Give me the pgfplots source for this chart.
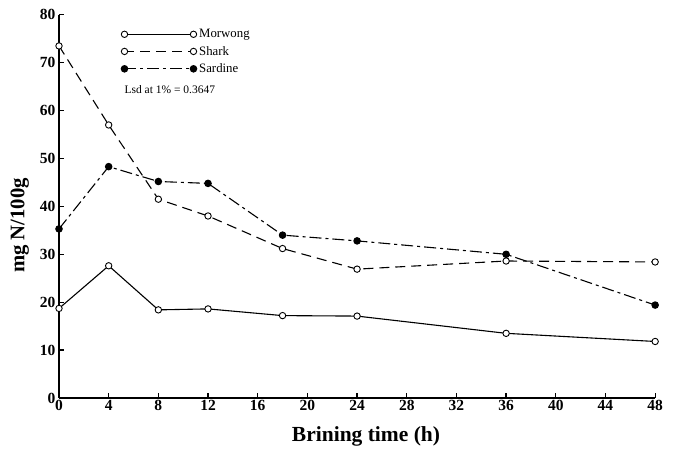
\documentclass[border=0pt]{standalone}
\usepackage{fontspec}
\setmainfont{Liberation Serif}
\usepackage{pgfplots}
\pgfplotsset{compat=1.18}

\begin{document}
\begin{tikzpicture}
\begin{axis}[
  x=12.42pt, y=4.79pt,
  anchor=origin, at={(0pt,0pt)},
  xmin=0, xmax=48, ymin=0, ymax=80,
  axis lines=left,
  axis line style={-, line width=1.6pt},
  xtick={0,4,...,48}, ytick={0,10,...,80},
  tick align=inside, major tick length=5pt,
  tick style={line width=1.3pt, black},
  /pgf/number format/assume math mode=true,
  ticklabel style={font=\fontsize{15.5}{17}\selectfont\bfseries},
  xticklabel style={yshift=1pt},
  xlabel={Brining time (h)},
  ylabel={mg N/100g},
  xlabel style={font=\fontsize{21.5}{24}\selectfont\bfseries,
    at={(axis description cs:0.515,-0.099)}, anchor=center},
  ylabel style={font=\fontsize{20.7}{24}\selectfont\bfseries,
    at={(axis description cs:-0.066,0.45)}, anchor=center},
  clip=false,
  legend style={at={(axis cs:5.0,72.3)}, anchor=west, draw=none, fill=none,
    font=\fontsize{12.8}{14}\selectfont, row sep=3pt, inner sep=0pt,
    nodes={inner xsep=2.5pt}},
  legend cell align=left,
  legend image code/.code={\draw[#1] plot coordinates {(0pt,0pt) (69pt,0pt)};},
  every axis plot/.append style={line width=1.1pt, black},
]
% Morwong
\addplot[solid, mark=*, mark size=3.2pt, mark options={solid, fill=white, line width=0.9pt}]
  coordinates {(0,18.7) (4,27.6) (8,18.4) (12,18.6) (18,17.2) (24,17.1) (36,13.5) (48,11.8)};
\addlegendentry{Morwong}
% Shark
\addplot[dash pattern=on 10pt off 6pt, mark=*, mark size=3.2pt, mark options={solid, fill=white, line width=0.9pt}]
  coordinates {(0,73.5) (4,57.0) (8,41.5) (12,38.0) (18,31.2) (24,26.9) (36,28.6) (48,28.4)};
\addlegendentry{Shark}
% Sardine
\addplot[dash pattern=on 12pt off 4pt on 3pt off 4pt, mark=*, mark size=3.2pt, mark options={solid, fill=black}]
  coordinates {(0,35.3) (4,48.3) (8,45.2) (12,44.8) (18,34.0) (24,32.8) (36,30.0) (48,19.4)};
\addlegendentry{Sardine}
\node[anchor=west, font=\fontsize{11.5}{13}\selectfont] at (axis cs:5.0,64.3) {Lsd at 1\% = 0.3647};
\end{axis}
\pgfresetboundingbox
\path[use as bounding box] (-59pt,-52pt) rectangle (614pt,398pt);
\end{tikzpicture}
\end{document}
